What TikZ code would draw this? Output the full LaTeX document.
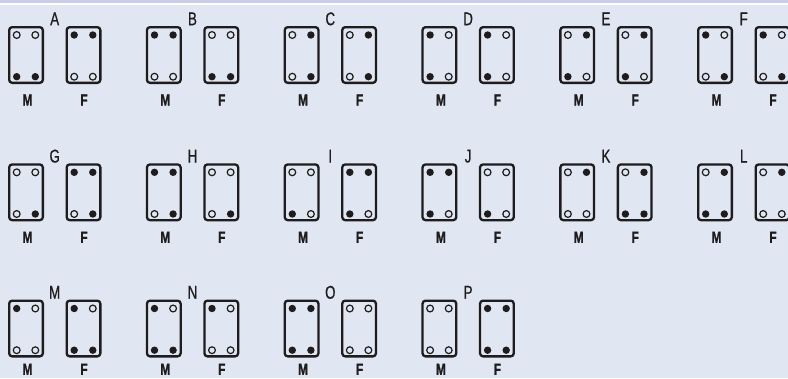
\documentclass[tikz,border=0pt]{standalone}
\usepackage{fontspec}
\newfontfamily\lblfont[FakeStretch=0.72,FakeBold=0.6]{Liberation Sans}
\newfontfamily\mffont[FakeStretch=0.74,FakeBold=1.2]{Liberation Sans Bold}
\definecolor{bgblue}{HTML}{E0E6F2}
\definecolor{stripe}{HTML}{C8CFEA}
\definecolor{ink}{HTML}{1E1C1D}
\tikzset{
  cellbox/.style={rectangle, draw=ink, line width=2.3pt, rounded corners=3pt,
    minimum width=33.7pt, minimum height=55.7pt, inner sep=0pt, outer sep=0pt},
  dot0/.style={circle, draw=ink, line width=1.2pt, minimum size=6.8pt, inner sep=0pt},
  dot1/.style={circle, fill=ink, minimum size=7.4pt, inner sep=0pt},
  letterlbl/.style={font=\lblfont\fontsize{18.5}{18.5}\selectfont, text=ink, inner sep=0pt, anchor=base},
  mflbl/.style={font=\mffont\fontsize{16}{16}\selectfont, text=ink, inner sep=0pt, anchor=base}
}
% #1 name, #2 outer left x, #3 outer top y, #4..#7 fills TL TR BL BR
\newcommand\bcell[7]{%
  \node[cellbox] (#1) at (#2+18, #3+29) {};
  \node[dot#4] (#1tl) at (#2+8.7, #3+9) {};
  \node[dot#5] (#1tr) at (#2+27.3, #3+9) {};
  \node[dot#6] (#1bl) at (#2+8.7, #3+50.7) {};
  \node[dot#7] (#1br) at (#2+27.3, #3+50.7) {};
}
% #1 panel letter, #2 x, #3 y, #4 label baseline offset
\newcommand\blabels[4]{%
  \node[letterlbl] (L#1) at (#2+46.7, #3-0.8) {#1};
  \node[mflbl] (L#1m) at (#2+19.5, #3+#4) {M};
  \node[mflbl] (L#1f) at (#2+57.5+18.5, #3+#4) {F};
}
\newcommand\bpanel[6]{%
  \blabels{#1}{#2}{#3}{#6}%
  \bcell{#1M}{#2}{#3}#4%
  \bcell{#1F}{#2+57.5}{#3}#5%
}
\begin{document}
\begin{tikzpicture}[x=1pt, y=-1pt]
\useasboundingbox (0,0) rectangle (788,378);
\clip (0,0) rectangle (788,378);
\fill[bgblue] (0,0) rectangle (788,378);
\fill[stripe] (0,0) rectangle (788,3);
\fill[white] (0,3) rectangle (788,4.6);
% row 1
\bpanel{A}{8}{26}{{0}{0}{1}{1}}{{1}{1}{0}{0}}{79.5}
\bpanel{B}{145.8}{26}{{1}{1}{0}{0}}{{0}{0}{1}{1}}{79.5}
\bpanel{C}{283.6}{26}{{0}{1}{0}{1}}{{0}{1}{0}{1}}{79.5}
\bpanel{D}{421.4}{26}{{1}{0}{1}{0}}{{1}{0}{1}{0}}{79.5}
\bpanel{E}{559.2}{26}{{0}{1}{1}{0}}{{0}{1}{1}{0}}{79.5}
\bpanel{F}{697}{26}{{1}{0}{0}{1}}{{1}{0}{0}{1}}{79.5}
% row 2
\bpanel{G}{8}{163.3}{{0}{0}{0}{1}}{{1}{1}{0}{1}}{79.5}
\bpanel{H}{145.8}{163.3}{{1}{1}{0}{1}}{{0}{0}{0}{1}}{79.5}
\bpanel{I}{283.6}{163.3}{{0}{0}{1}{0}}{{1}{1}{1}{0}}{79.5}
\bpanel{J}{421.4}{163.3}{{1}{1}{1}{0}}{{0}{0}{1}{0}}{79.5}
\bpanel{K}{559.2}{163.3}{{0}{1}{0}{0}}{{0}{1}{1}{1}}{79.5}
\bpanel{L}{697}{163.3}{{0}{1}{1}{1}}{{0}{1}{0}{0}}{79.5}
% row 3
\bpanel{M}{8}{299.5}{{1}{0}{0}{0}}{{1}{0}{1}{1}}{75.3}
\bpanel{N}{145.8}{299.5}{{1}{0}{1}{1}}{{1}{0}{0}{0}}{75.3}
\bpanel{O}{283.6}{299.5}{{1}{1}{1}{1}}{{0}{0}{0}{0}}{75.3}
\bpanel{P}{421.4}{299.5}{{0}{0}{0}{0}}{{1}{1}{1}{1}}{75.3}
\end{tikzpicture}
\end{document}
